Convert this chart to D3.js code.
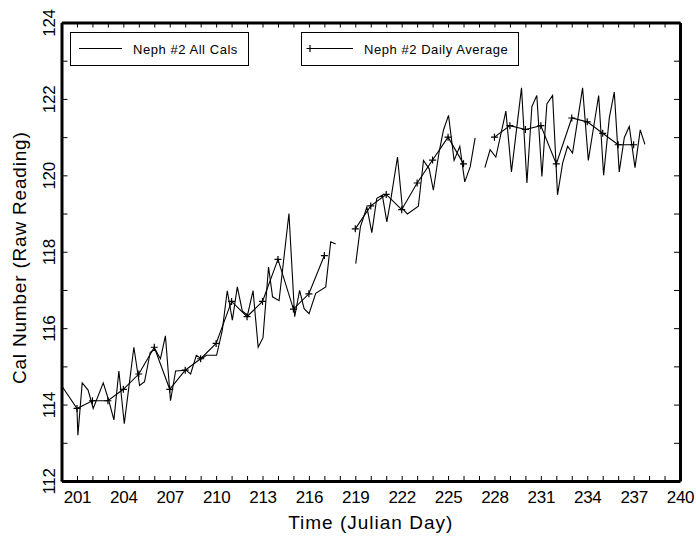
<!DOCTYPE html>
<html lang="en">
<head>
<meta charset="UTF-8">
<title>Neph #2 Cal Number</title>
<script src="https://d3js.org/d3.v7.min.js"></script>
<style>
    body { margin: 0; background: #fff; }
    svg text { font-family: "Liberation Sans", Arial, sans-serif; fill: #000; }
    .domain { stroke: #000; stroke-width: 3px; }
    .tick line { stroke: #000; stroke-width: 1px; }
</style>
</head>
<body>
<svg id="chart" width="696" height="536"></svg>
<script>
// all calibrations (fractional julian day / raw reading), null = gap in record
const calDay = [200.0, 201.0, 201.06, 201.34, 201.72, 202.05, 202.7, 203.06, 203.39, 203.71,
    204.06, 204.68, 205.05, 205.37, 205.74, 206.05, 206.4, 206.72, 207.05, 207.38,
    208.05, 208.35, 208.72, 209.05, 209.38, 210.03, 210.4, 210.72, 211.05, 211.37,
    211.69, 212.03, 212.39, 212.72, 213.03, 213.39, 213.65, 214.07, 214.71, 215.08,
    215.4, 215.69, 216.01, 216.44, 217.09, 217.41, 217.73, null,
    219.03, 219.33, 219.75, 220.07, 220.39, 220.75, 221.04, 221.29, 221.73, 222.05,
    222.37, 223.08, 223.41, 223.78, 224.05, 224.42, 224.7, 225.03, 225.39, 225.76,
    226.08, 226.43, 226.75, null,
    227.38, 227.72, 228.09, 228.74, 229.1, 229.75, 230.1, 230.42, 230.74, 231.07,
    231.39, 231.76, 232.08, 232.41, 232.73, 233.05, 233.7, 234.07, 234.74, 235.06,
    235.43, 235.75, 236.07, 236.4, 236.72, 237.09, 237.43, 237.73];
const calVal = [114.5, 113.9, 113.2, 114.57, 114.38, 113.9, 114.57, 114.1, 113.6, 114.88,
    113.5, 115.5, 114.5, 114.6, 115.37, 115.45, 115.2, 115.8, 114.1, 114.88,
    114.9, 114.8, 115.29, 115.2, 115.29, 115.29, 115.95, 116.98, 116.21, 117.08,
    116.45, 116.34, 116.98, 115.5, 115.75, 117.6, 116.82, 116.72, 119.0, 116.3,
    116.99, 116.51, 116.38, 116.91, 117.08, 118.26, 118.2, null,
    117.69, 118.65, 119.17, 118.5, 119.4, 119.48, 118.78, 119.35, 120.48, 119.13,
    118.99, 119.19, 120.39, 120.17, 119.61, 120.61, 121.18, 121.57, 120.39, 120.76,
    119.83, 120.22, 120.98, null,
    120.2, 120.67, 120.48, 121.68, 120.09, 122.29, 119.8, 121.8, 122.09, 119.97,
    121.87, 122.09, 119.49, 120.32, 120.76, 120.58, 122.29, 120.39, 122.09, 120.0,
    121.51, 122.18, 120.09, 120.99, 121.28, 120.2, 121.19, 120.81];

// daily averages
const avgDay = [201, 202, 203, 204, 205, 206, 207, 208, 209, 210, 211, 212, 213, 214, 215, 216, 217,
    218, 219, 220, 221, 222, 223, 224, 225, 226, 227,
    228, 229, 230, 231, 232, 233, 234, 235, 236, 237];
const avgVal = [113.9, 114.1, 114.1, 114.4, 114.8, 115.5, 114.4, 114.9, 115.2, 115.6, 116.7, 116.3, 116.7, 117.8, 116.5, 116.9, 117.9,
    null, 118.6, 119.2, 119.5, 119.1, 119.8, 120.4, 121.0, 120.3, null,
    121.0, 121.3, 121.2, 121.3, 120.3, 121.5, 121.4, 121.1, 120.8, 120.8];

const xLabelDays = [201, 204, 207, 210, 213, 216, 219, 222, 225, 228, 231, 234, 237, 240];
const yLabels = [112, 114, 116, 118, 120, 122, 124];
const legendNames = ["Neph #2 All Cals", "Neph #2 Daily Average"];

const svg = d3.select("#chart");
const plotL = 61.5, plotR = 680, plotT = 22.5, plotB = 481;

const x = d3.scaleLinear().domain([200, 240]).range([plotL, plotR]);
const y = d3.scaleLinear().domain([112, 124]).range([plotB, plotT]);

const dayTicks = d3.range(200, 241);
const valTicks = d3.range(112, 125);

// minor ticks on all four sides
svg.append("g").attr("transform", `translate(0,${plotB})`)
    .call(d3.axisBottom(x).tickValues(dayTicks).tickSize(-5).tickSizeOuter(0).tickFormat(""));
svg.append("g").attr("transform", `translate(0,${plotT})`)
    .call(d3.axisTop(x).tickValues(dayTicks).tickSize(-5).tickSizeOuter(0).tickFormat(""));
svg.append("g").attr("transform", `translate(${plotL},0)`)
    .call(d3.axisLeft(y).tickValues(valTicks).tickSize(-6).tickSizeOuter(0).tickFormat(""));
svg.append("g").attr("transform", `translate(${plotR},0)`)
    .call(d3.axisRight(y).tickValues(valTicks).tickSize(-6).tickSizeOuter(0).tickFormat(""));

// labels
const xl = svg.append("g").attr("transform", `translate(0,${plotB})`)
    .call(d3.axisBottom(x).tickValues(xLabelDays).tickSize(0).tickPadding(10).tickFormat(d3.format("d")));
xl.select(".domain").remove();
xl.selectAll("text").style("font-size", "17px").style("letter-spacing", "-0.3px");

const yl = svg.append("g").attr("transform", `translate(${plotL},0)`)
    .call(d3.axisLeft(y).tickValues(yLabels).tickSize(0).tickFormat(d3.format("d")));
yl.select(".domain").remove();
yl.selectAll("text")
    .attr("x", 0).attr("dy", 0)
    .attr("text-anchor", "middle")
    .attr("transform", "translate(-6.5,0) rotate(-90)")
    .style("font-size", "17px").style("letter-spacing", "-0.3px");

svg.append("text")
    .attr("x", (plotL + plotR) / 2).attr("y", 529)
    .attr("text-anchor", "middle")
    .style("font-size", "19px").style("letter-spacing", "1px")
    .text("Time (Julian Day)");

svg.append("text")
    .attr("transform", `translate(26,${(plotT + plotB) / 2 + 6}) rotate(-90)`)
    .attr("text-anchor", "middle")
    .style("font-size", "19px").style("letter-spacing", "0.8px")
    .text("Cal Number (Raw Reading)");

// data lines
const calPts = calDay.map((d, i) => [d, calVal[i]]);
const avgPts = avgDay.map((d, i) => [d, avgVal[i]]);

const line = d3.line()
    .defined(p => p[0] !== null && p[1] !== null)
    .x(p => x(p[0])).y(p => y(p[1]));

svg.append("path").datum(calPts)
    .attr("fill", "none").attr("stroke", "#000").attr("stroke-width", 1.1)
    .attr("d", line);

svg.append("path").datum(avgPts)
    .attr("fill", "none").attr("stroke", "#000").attr("stroke-width", 1.1)
    .attr("d", line);

const plus = "M-3.5,0H3.5M0,-3.5V3.5";
svg.append("g").selectAll("path")
    .data(avgPts.filter(p => p[1] !== null))
    .join("path")
    .attr("transform", p => `translate(${x(p[0])},${y(p[1])})`)
    .attr("d", plus)
    .attr("stroke", "#000").attr("stroke-width", 1.2);

// legend boxes
const legends = [
    { x0: 70.5, x1: 248.5, lx0: 79, lx1: 122, tx: 133, marker: false },
    { x0: 301.5, x1: 518.5, lx0: 310, lx1: 353, tx: 364, marker: true }
];
legends.forEach((L, i) => {
    const g = svg.append("g");
    g.append("rect")
        .attr("x", L.x0).attr("y", 32.5)
        .attr("width", L.x1 - L.x0).attr("height", 33)
        .attr("fill", "#fff").attr("stroke", "#000").attr("stroke-width", 1);
    g.append("line")
        .attr("x1", L.lx0).attr("x2", L.lx1).attr("y1", 48.5).attr("y2", 48.5)
        .attr("stroke", "#000").attr("stroke-width", 1);
    if (L.marker) {
        g.append("path").attr("transform", `translate(${L.lx0},48.5)`)
            .attr("d", plus).attr("stroke", "#000").attr("stroke-width", 1.2);
    }
    g.append("text")
        .attr("x", L.tx).attr("y", 53.5)
        .style("font-size", "13px").style("letter-spacing", "0.55px")
        .text(legendNames[i]);
});
</script>
</body>
</html>
